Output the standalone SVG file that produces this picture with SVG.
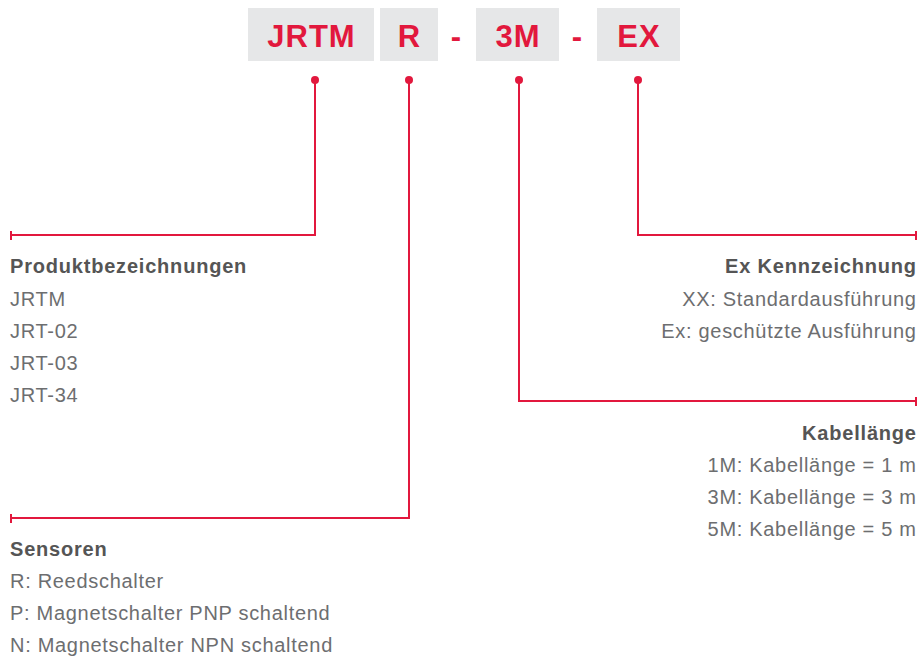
<svg xmlns="http://www.w3.org/2000/svg" width="921" height="657" viewBox="0 0 921 657">
<style>
.box{fill:#e6e7e8}
.code{font-family:"Liberation Sans",Arial,sans-serif;font-size:31px;font-weight:bold;fill:#e2183d;text-anchor:middle;letter-spacing:1px}
.ln{fill:none;stroke:#e2183d;stroke-width:2}
.dot{fill:#e2183d}
.ttl{font-family:"Liberation Sans",Arial,sans-serif;font-size:20px;font-weight:bold;fill:#555555;letter-spacing:0.8px}
.itm{font-family:"Liberation Sans",Arial,sans-serif;font-size:20px;fill:#6d6e70;letter-spacing:0.7px}
.r{text-anchor:end}
</style>
<rect width="921" height="657" fill="#ffffff"/>
<g id="code">
<g id="box-jrtm"><rect class="box" x="248" y="8" width="126" height="53"/><text class="code" x="311.5" y="47">JRTM</text></g>
<g id="box-r"><rect class="box" x="380" y="8" width="58" height="53"/><text class="code" x="409.5" y="47">R</text></g>
<text class="code" x="456.5" y="47">-</text>
<g id="box-3m"><rect class="box" x="476" y="8" width="83" height="53"/><text class="code" x="518" y="47">3M</text></g>
<text class="code" x="577.5" y="47">-</text>
<g id="box-ex"><rect class="box" x="597" y="8" width="83" height="53"/><text class="code" x="639" y="47">EX</text></g>
</g>
<g id="connectors">
<circle class="dot" cx="315" cy="80" r="4"/>
<circle class="dot" cx="409" cy="80" r="4"/>
<circle class="dot" cx="519" cy="80" r="4"/>
<circle class="dot" cx="638" cy="80" r="4"/>
<path class="ln" d="M315,80 V235 H11 M11,231 V240"/>
<path class="ln" d="M409,80 V518 H11 M11,514 V523"/>
<path class="ln" d="M519,80 V401 H916 M916,397 V406"/>
<path class="ln" d="M638,80 V235 H916 M916,231 V240"/>
</g>
<g id="produkt">
<text class="ttl" x="10" y="273">Produktbezeichnungen</text>
<text class="itm" x="10" y="306">JRTM</text>
<text class="itm" x="10" y="338">JRT-02</text>
<text class="itm" x="10" y="370">JRT-03</text>
<text class="itm" x="10" y="402">JRT-34</text>
</g>
<g id="ex">
<text class="ttl r" x="916.8" y="273">Ex Kennzeichnung</text>
<text class="itm r" x="916.7" y="306">XX: Standardausführung</text>
<text class="itm r" x="916.7" y="338">Ex: geschützte Ausführung</text>
</g>
<g id="kabel">
<text class="ttl r" x="916.8" y="440">Kabellänge</text>
<text class="itm r" x="916.7" y="472">1M: Kabellänge = 1 m</text>
<text class="itm r" x="916.7" y="504">3M: Kabellänge = 3 m</text>
<text class="itm r" x="916.7" y="536">5M: Kabellänge = 5 m</text>
</g>
<g id="sensoren">
<text class="ttl" x="10" y="556">Sensoren</text>
<text class="itm" x="10" y="588">R: Reedschalter</text>
<text class="itm" x="10" y="620">P: Magnetschalter PNP schaltend</text>
<text class="itm" x="10" y="652">N: Magnetschalter NPN schaltend</text>
</g>
</svg>
